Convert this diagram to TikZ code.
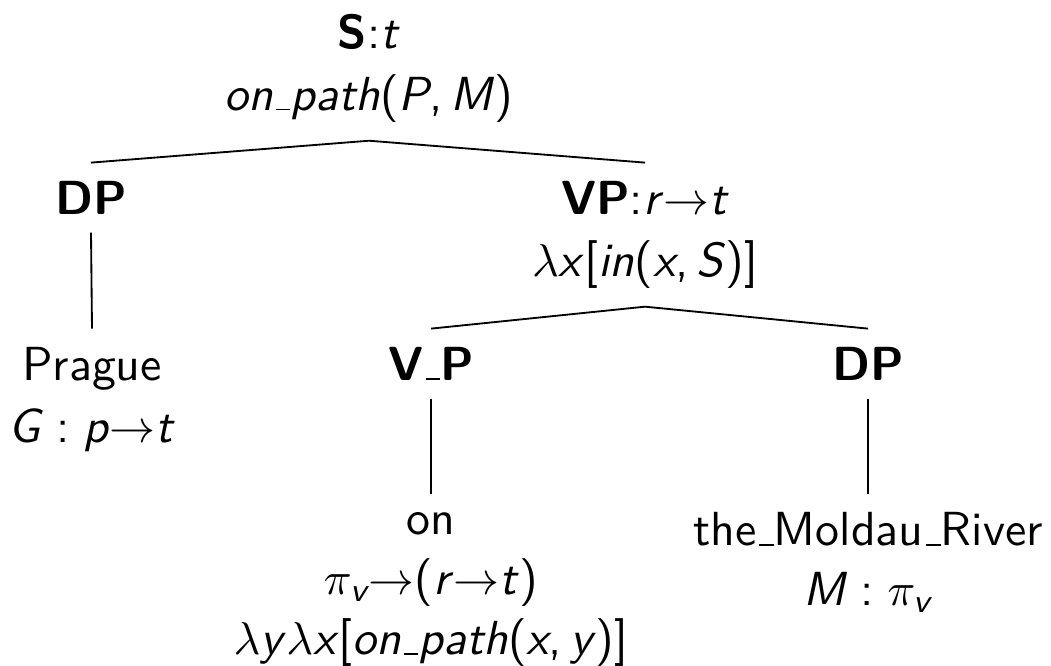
\documentclass[tikz,border=0pt]{standalone}
\usepackage{amsmath}
\usepackage{fontspec}
\newcommand\us{\kern.06em\vbox{\hrule width .3em}}
\newcommand\ii[1]{\textit{#1}}
\newcommand\ar{\ensuremath{\rightarrow}}
\newcommand\cl{\hspace{0.28em}:\hspace{0.28em}}
\tikzset{
  tn/.style={anchor=north, inner sep=4pt, outer sep=0pt, align=center,
    font=\fontsize{10.4}{13.5}\selectfont\sffamily},
  tnlow/.style={tn, font=\fontsize{10.4}{13.1}\selectfont\sffamily},
  br/.style={draw=black, line width=0.4pt}
}
\begin{document}
\begin{tikzpicture}[x=0.2174pt, y=-0.2174pt]
\useasboundingbox (0,0) rectangle (1051,665);
\node[tn] (root) at (369,-4.4) {{\bfseries S}:\ii{t}\\ \ii{on\us path}(\ii{P},\,\ii{M})};
\node[tn] (dp1) at (91,162.6) {{\bfseries DP}};
\node[tn] (vp) at (645,162.6) {{\bfseries VP}:\ii{r}\ar\ii{t}\\ $\lambda$\ii{x}[\ii{in}(\ii{x},\,\ii{S})]};
\node[tn] (prague) at (92,328.6) {Prague\\ \ii{G}\cl\ii{p}\ar\ii{t}};
\node[tn] (vbar) at (431,328.6) {{\bfseries V\us P}};
\node[tn] (dp2) at (868,328.6) {{\bfseries DP}};
\node[tnlow] (on) at (431,494) {on\\ $\pi_{\textit{v}}$\ar(\ii{r}\ar\ii{t})\\ $\lambda$\ii{y}$\lambda$\ii{x}[\ii{on\us path}(\ii{x},\,\ii{y})]};
\node[tnlow] (moldau) at (868,494) {the\us Moldau\us River\\ \ii{M}\cl$\pi_{\textit{v}}$};
\draw[br] (root.south) -- (dp1.north);
\draw[br] (root.south) -- (vp.north);
\draw[br] (dp1.south) -- (prague.north);
\draw[br] (vp.south) -- (vbar.north);
\draw[br] (vp.south) -- (dp2.north);
\draw[br] (vbar.south) -- (on.north);
\draw[br] (dp2.south) -- (moldau.north);
\end{tikzpicture}
\end{document}
